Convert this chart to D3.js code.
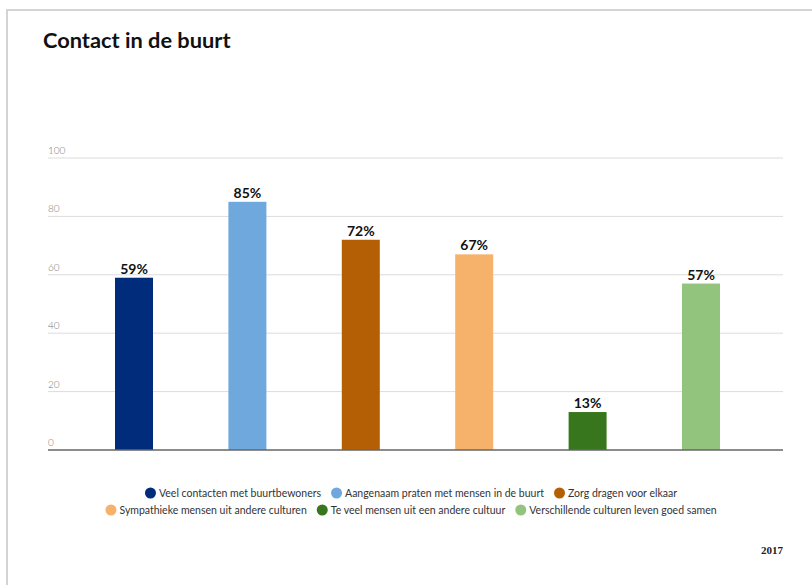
<!DOCTYPE html>
<html>
<head>
<meta charset="utf-8">
<script src="https://cdn.jsdelivr.net/npm/d3@7"></script>
<style>
  html, body { margin: 0; padding: 0; background: #fff; }
  svg { display: block; }
</style>
</head>
<body>
<div id="chart"></div>
<script>
const categories = [
  "Veel contacten met buurtbewoners",
  "Aangenaam praten met mensen in de buurt",
  "Zorg dragen voor elkaar",
  "Sympathieke mensen uit andere culturen",
  "Te veel mensen uit een andere cultuur",
  "Verschillende culturen leven goed samen"
]
const values = [59, 85, 72, 67, 13, 57]
const colors = ["#012c7c", "#6fa8dc", "#b45f06", "#f6b26b", "#38761d", "#93c47d"]
const yTicks = [0, 20, 40, 60, 80, 100]
const legendRows = [[0, 1, 2], [3, 4, 5]]

const width = 812, height = 585
const margin = { top: 158, right: 29, bottom: 135, left: 48 }

const svg = d3.select("#chart").append("svg")
  .attr("width", width)
  .attr("height", height)

// frame
svg.append("rect")
  .attr("x", 7).attr("y", 10)
  .attr("width", 830).attr("height", 600)
  .attr("fill", "#fff")
  .attr("stroke", "#d4d4d4")
  .attr("stroke-width", 2)

svg.append("text")
  .attr("x", 43).attr("y", 48)
  .attr("font-family", "Lato, sans-serif")
  .attr("font-weight", "bold")
  .attr("font-size", 21.8)
  .attr("fill", "#111")
  .text("Contact in de buurt")

const y = d3.scaleLinear()
  .domain([0, 100])
  .range([height - margin.bottom, margin.top])

const x = d3.scaleBand()
  .domain(categories)
  .range([77.3, 757.7])
  .paddingInner(0.665)
  .paddingOuter(0.3325)

// grid + tick labels
const grid = svg.append("g")
grid.selectAll("line")
  .data(yTicks.filter(d => d > 0))
  .join("line")
  .attr("x1", margin.left).attr("x2", width - margin.right)
  .attr("y1", d => y(d)).attr("y2", d => y(d))
  .attr("stroke", "#dcdcdc")
  .attr("stroke-width", 1)

grid.selectAll("text")
  .data(yTicks)
  .join("text")
  .attr("x", margin.left)
  .attr("y", d => y(d) - 4)
  .attr("font-family", "Lato, sans-serif")
  .attr("font-weight", 300)
  .attr("font-size", 10)
  .attr("fill", "#7a7a7a")
  .text(d => d)

// bars
svg.append("g").selectAll("rect")
  .data(values)
  .join("rect")
  .attr("x", (d, i) => x(categories[i]))
  .attr("y", d => y(d))
  .attr("width", x.bandwidth())
  .attr("height", d => y(0) - y(d))
  .attr("fill", (d, i) => colors[i])

// value labels
svg.append("g").selectAll("text")
  .data(values)
  .join("text")
  .attr("x", (d, i) => x(categories[i]) + x.bandwidth() / 2)
  .attr("y", d => y(d) - 4)
  .attr("text-anchor", "middle")
  .attr("font-family", "Lato, sans-serif")
  .attr("font-weight", "bold")
  .attr("font-size", 14)
  .attr("fill", "#111")
  .text(d => d + "%")

// baseline
svg.append("line")
  .attr("x1", margin.left).attr("x2", width - margin.right)
  .attr("y1", y(0)).attr("y2", y(0))
  .attr("stroke", "#666")
  .attr("stroke-width", 1.5)

// legend
const legendY = [493, 510]
legendRows.forEach((row, r) => {
  const g = svg.append("g")
  let cx = 0
  row.forEach(i => {
    g.append("circle")
      .attr("cx", cx + 5.5).attr("cy", legendY[r])
      .attr("r", 5.5)
      .attr("fill", colors[i])
    const t = g.append("text")
      .attr("x", cx + 14).attr("y", legendY[r] + 4)
      .attr("font-family", "Lato, sans-serif")
      .attr("font-size", 10.5)
      .attr("fill", "#333")
      .text(categories[i])
    cx += 14 + t.node().getComputedTextLength() + 10
  })
  const total = cx - 10
  g.attr("transform", `translate(${411 - total / 2},0)`)
})

svg.append("text")
  .attr("x", width - margin.right)
  .attr("y", 554)
  .attr("text-anchor", "end")
  .attr("font-family", "'Liberation Serif', serif")
  .attr("font-weight", "bold")
  .attr("font-size", 11)
  .attr("fill", "#222")
  .text("2017")
</script>
</body>
</html>
